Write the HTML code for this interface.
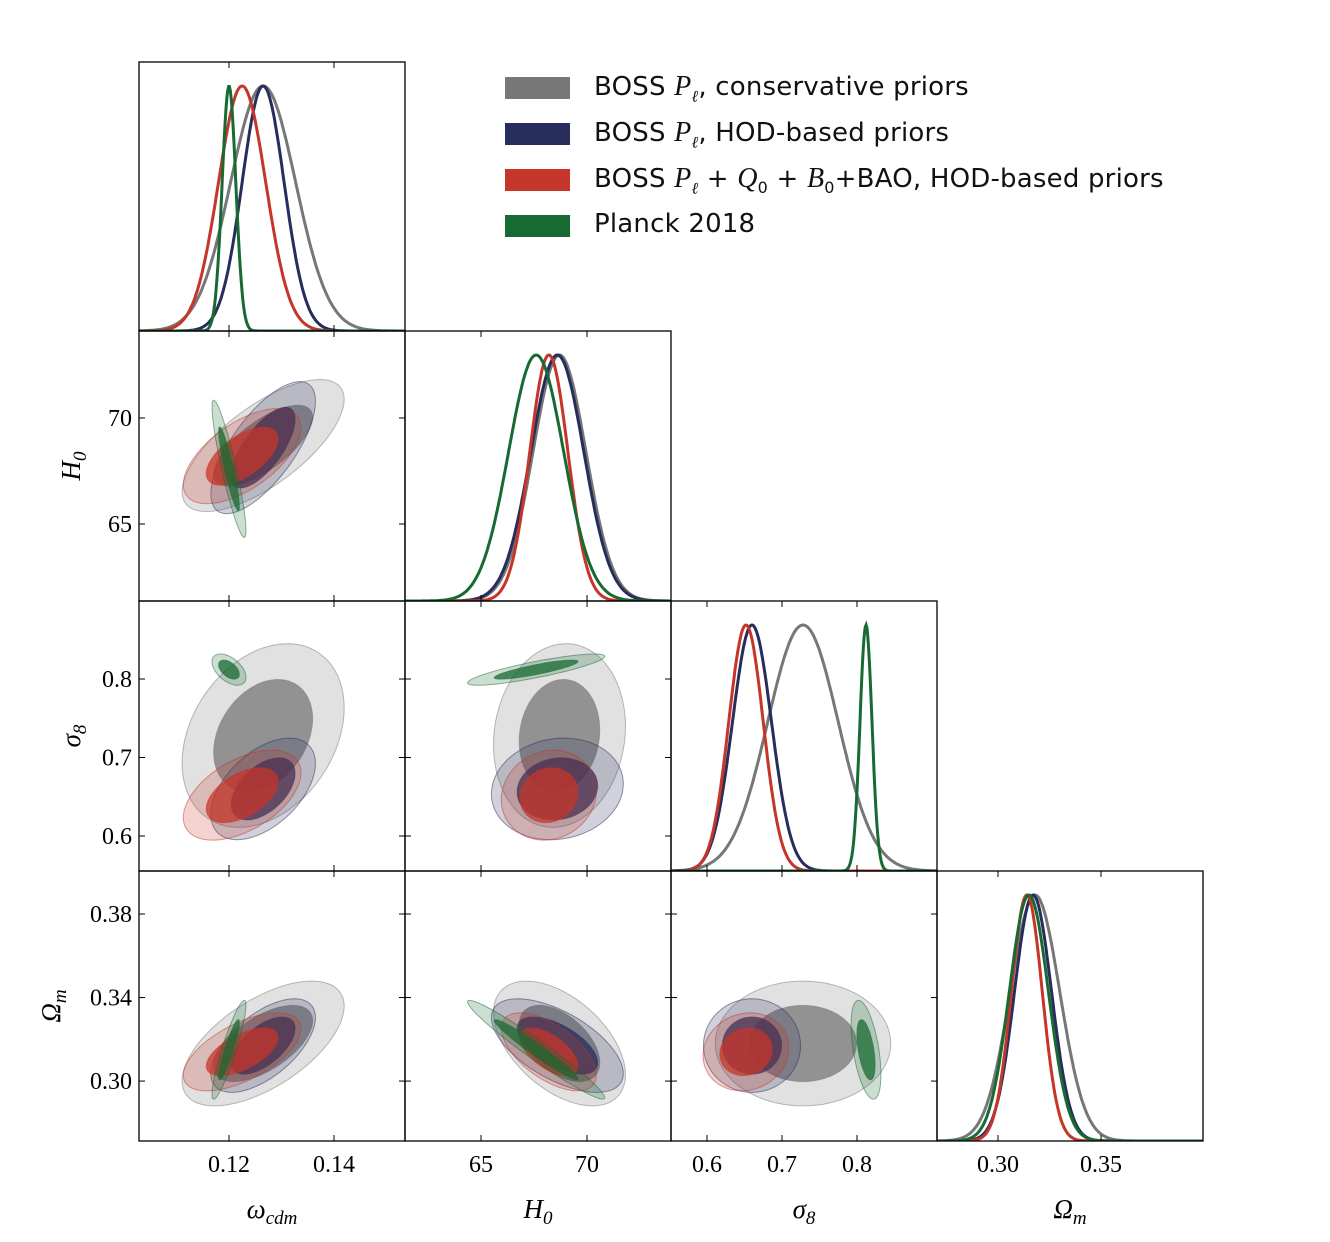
<!DOCTYPE html>
<html><head><meta charset="utf-8">
<style>
body{margin:0;background:#fff;}
#wrap{position:relative;width:1330px;height:1242px;overflow:hidden;font-family:"DejaVu Sans","Liberation Sans",sans-serif;}
svg text{font-family:"Liberation Serif",serif;}
.leg{position:absolute;left:505px;font-size:26px;letter-spacing:0.2px;color:#111;}
.leg .sw{position:absolute;left:0;top:0;width:65px;height:22px;}
.leg .tx{position:absolute;left:89px;top:-6px;white-space:nowrap;}
.m{font-family:"Liberation Serif",serif;font-style:italic;font-size:28px;}
</style></head><body>
<div id="wrap">
<svg id="chart" width="1330" height="1242"></svg>
<div class="leg" style="top:77px"><div class="sw" style="background:#777"></div><div class="tx">BOSS <span class="m">P<sub style="font-size:16px">ℓ</sub></span>, conservative priors</div></div>
<div class="leg" style="top:123px"><div class="sw" style="background:#272d5c"></div><div class="tx">BOSS <span class="m">P<sub style="font-size:16px">ℓ</sub></span>, HOD-based priors</div></div>
<div class="leg" style="top:169px"><div class="sw" style="background:#c5352a"></div><div class="tx">BOSS <span class="m">P<sub style="font-size:16px">ℓ</sub></span> + <span class="m">Q</span><sub style="font-size:16px">0</sub> + <span class="m">B</span><sub style="font-size:16px">0</sub>+BAO, HOD-based priors</div></div>
<div class="leg" style="top:215px"><div class="sw" style="background:#176b32"></div><div class="tx">Planck 2018</div></div>
</div>
<script>
const paramLabels=['ω<tspan dy="6" font-size="19">cdm</tspan>','H<tspan dy="6" font-size="19">0</tspan>','σ<tspan dy="6" font-size="19">8</tspan>','Ω<tspan dy="6" font-size="19">m</tspan>'];
const xTicks=[[0.12,0.14],[65,70],[0.6,0.7,0.8],[0.30,0.35]];
const xTickLabels=[['0.12','0.14'],['65','70'],['0.6','0.7','0.8'],['0.30','0.35']];
const yTicks=[[],[65,70],[0.6,0.7,0.8],[0.30,0.34,0.38]];
const yTickLabels=[[],['65','70'],['0.6','0.7','0.8'],['0.30','0.34','0.38']];
const seriesNames=['conservative','hod','combined','planck'];
const seriesColors=['#777777','#272d5c','#c5352a','#176b32'];
// means: [omega_cdm, H0, sigma8, Omega_m]
const meanGray=[0.1265,68.7,0.728,0.318];
const meanNavy=[0.1265,68.6,0.660,0.317];
const meanRed=[0.1225,68.2,0.652,0.314];
const meanGreen=[0.1200,67.6,0.812,0.315];
const sigGray=[0.0062,1.25,0.047,0.012];
const sigNavy=[0.0040,1.25,0.026,0.009];
const sigRed=[0.0045,0.9,0.023,0.0075];
const sigGreen=[0.0013,1.3,0.008,0.0095];
// correlations pairs: (0,1),(0,2),(1,2),(0,3),(1,3),(2,3)
const corrGray=[0.7,0.3,0.1,0.6,-0.5,0.0];
const corrNavy=[0.7,0.5,0.1,0.6,-0.6,0.0];
const corrRed=[0.6,0.5,0.1,0.6,-0.6,0.1];
const corrGreen=[-0.9,-0.5,0.85,0.9,-0.97,-0.5];
const means=[meanGray,meanNavy,meanRed,meanGreen];
const sigs=[sigGray,sigNavy,sigRed,sigGreen];
const corrs=[corrGray,corrNavy,corrRed,corrGreen];
const pairIdx={'0,1':0,'0,2':1,'1,2':2,'0,3':3,'1,3':4,'2,3':5};

const colX=[139,405,671,937,1203];
const rowY=[62,331,601,871,1141];
const xRange=[[0.10286,0.15352],[61.415,73.96],[0.552,0.9067],[0.2704,0.3995]];
const yRange=[null,[61.37,74.1],[0.5554,0.8994],[0.2713,0.4006]];
const NS='http://www.w3.org/2000/svg';
const svg=document.getElementById('chart');
function el(t,a,p){const e=document.createElementNS(NS,t);for(const k in a)e.setAttribute(k,a[k]);(p||svg).appendChild(e);return e;}
function sx(c,v){const r=xRange[c];return colX[c]+(v-r[0])/(r[1]-r[0])*(colX[c+1]-colX[c]);}
function sy(r,v){const g=yRange[r];return rowY[r+1]-(v-g[0])/(g[1]-g[0])*(rowY[r+1]-rowY[r]);}

for(let r=0;r<4;r++){for(let c=0;c<=r;c++){
  const g=el('g',{});
  
  
  const clipId='clip'+r+c;
  const cp=el('clipPath',{id:clipId},g);
  el('rect',{x:colX[c],y:rowY[r],width:colX[c+1]-colX[c],height:rowY[r+1]-rowY[r]},cp);
  const inner=el('g',{'clip-path':'url(#'+clipId+')'},g);
  if(r===c){
    for(let s=0;s<4;s++){
      const m=means[s][c],sd=sigs[s][c];let d='';
      for(let i=0;i<=300;i++){const v=xRange[c][0]+(xRange[c][1]-xRange[c][0])*i/300;
        const y=rowY[r+1]-(rowY[r+1]-rowY[r]-24)*Math.exp(-0.5*((v-m)/sd)**2);
        d+=(i?'L':'M')+sx(c,v).toFixed(1)+','+y.toFixed(1);}
      const p=el('path',{d:d,fill:'none',stroke:seriesColors[s],'stroke-width':3},inner);
      
      
    }
  } else {
    for(let s=0;s<4;s++){
      const rho=corrs[s][pairIdx[c+','+r]];
      const ax=sigs[s][c],ay=sigs[s][r],mx=means[s][c],my=means[s][r];
      [[2.49,0.22],[1.52,0.75]].forEach(([k,op],li)=>{
        let d='';
        for(let i=0;i<=80;i++){const t=2*Math.PI*i/80;const u=Math.cos(t),w=Math.sin(t);
          const vx=mx+k*ax*u;const vy=my+k*ay*(rho*u+Math.sqrt(1-rho*rho)*w);
          d+=(i?'L':'M')+sx(c,vx).toFixed(1)+','+sy(r,vy).toFixed(1);}
        const p=el('path',{d:d+'Z',fill:seriesColors[s],'fill-opacity':op,stroke:seriesColors[s],'stroke-opacity':0.5,'stroke-width':1},inner);
        
        
      });
    }
  }
  el('rect',{x:colX[c],y:rowY[r],width:colX[c+1]-colX[c],height:rowY[r+1]-rowY[r],fill:'none',stroke:'#000','stroke-width':1.3},g);
  xTicks[c].forEach(v=>{const x=sx(c,v);
    el('line',{x1:x,x2:x,y1:rowY[r+1],y2:rowY[r+1]-6,stroke:'#000'},g);
    el('line',{x1:x,x2:x,y1:rowY[r],y2:rowY[r]+6,stroke:'#000'},g);});
  if(r>0&&r!==c) yTicks[r].forEach(v=>{const y=sy(r,v);
    el('line',{x1:colX[c],x2:colX[c]+6,y1:y,y2:y,stroke:'#000'},g);
    el('line',{x1:colX[c+1],x2:colX[c+1]-6,y1:y,y2:y,stroke:'#000'},g);});
}}
for(let c=0;c<4;c++){
  xTicks[c].forEach((v,i)=>{const t=el('text',{x:sx(c,v),y:1172,'text-anchor':'middle','font-size':24});t.textContent=xTickLabels[c][i];
    });
  const t=el('text',{x:(colX[c]+colX[c+1])/2,y:1218,'text-anchor':'middle','font-size':27,'font-style':'italic'});
  t.innerHTML=paramLabels[c];
  
}
const yTitleX=[0,80,80,60];
for(let r=1;r<4;r++){
  yTicks[r].forEach((v,i)=>{const t=el('text',{x:132,y:sy(r,v)+8,'text-anchor':'end','font-size':24});t.textContent=yTickLabels[r][i];
    });
  const cy=(rowY[r]+rowY[r+1])/2;
  const t=el('text',{x:0,y:0,'text-anchor':'middle','font-size':27,'font-style':'italic',transform:'translate('+yTitleX[r]+','+cy+') rotate(-90)'});
  t.innerHTML=paramLabels[r];
  
}
</script>
</body></html>
